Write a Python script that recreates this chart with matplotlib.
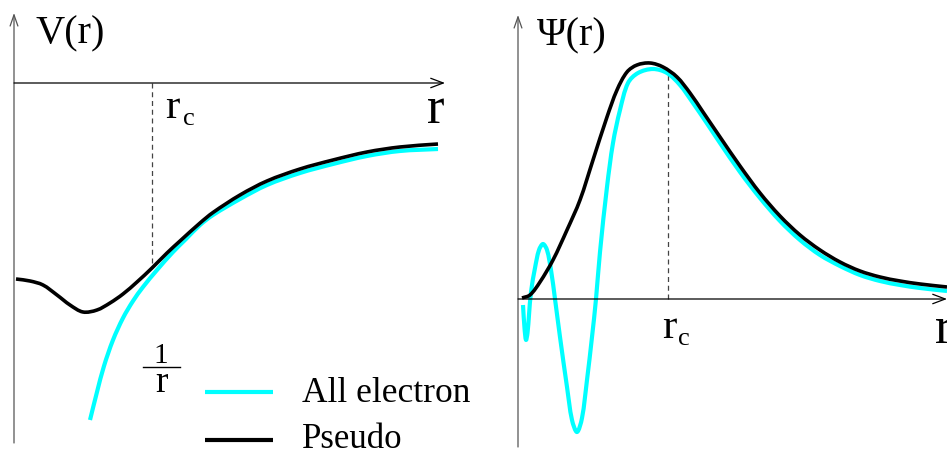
import matplotlib
matplotlib.use("Agg")
import matplotlib.pyplot as plt
import numpy as np
from matplotlib.path import Path
from matplotlib.patches import PathPatch

# ---------------- data (schematic) ----------------
# Left panel: potential V(r); r and V in arbitrary units (origin at axes cross)
rc_left = 138
r_ps_left = [2, 16, 29, 43, 56, 69, 83, 96, 109, 123, 138, 153, 166, 186, 199, 226, 253, 286, 319, 353, 386, 424]
V_ps = [-196, -198, -202, -212, -222, -229, -227, -220, -211, -199, -185, -170, -158, -140, -129.5, -112, -98, -86, -77, -69, -64, -61]
r_ae_left = [76, 83, 90, 99, 109, 119, 129, 143, 159, 172, 186, 199, 226, 253, 286, 319, 353, 386, 424]
V_ae = [-337, -309, -283, -257, -235, -218, -204, -187, -169, -156, -142, -132, -116, -102, -90, -81, -73, -68, -66]

# Right panel: wavefunction Psi(r)
rc_right = 150
r_ps_right = [4, 12, 22, 35, 49, 62, 75, 89, 99, 109, 119, 132, 145, 159, 172, 185, 202, 222, 242, 262,
              282, 302, 322, 342, 362, 382, 402, 429]
Psi_ps = [1, 4, 17, 39, 69, 99, 139, 182, 209, 227, 234, 236, 232, 222, 206, 187, 162, 133, 106, 83,
          64, 49, 37, 28, 22, 18, 15, 12]
r_ae_right = [5, 6.5, 8, 9.5, 11, 13, 17, 21, 25, 29, 33, 37, 42, 49, 54, 59, 64, 69, 74, 78,
              82, 89, 95, 102, 110, 120, 135, 149, 162, 175, 188, 202, 222, 242, 262, 282, 302, 322, 342, 362,
              382, 402, 429]
Psi_ae = [-6, -29, -41, -34, -16, 7, 31, 49, 55, 49, 29, 0, -38, -88, -121, -133, -119, -81, -38, 0,
          47, 112, 156, 189, 216, 226, 230, 226, 214, 196, 177, 156, 127, 101, 78, 59, 44, 33, 24, 18,
          14, 11, 8]

legend_labels = ["All electron", "Pseudo"]

# ---------------- styling ----------------
CYAN = "#00FFFF"
BLACK = "#000000"
SERIF = ["Liberation Serif", "DejaVu Serif"]
plt.rcParams["font.family"] = SERIF

W, H = 947, 455
fig = plt.figure(figsize=(W / 100, H / 100), dpi=100)
fig.patch.set_facecolor("white")

axL = fig.add_axes([0, 0, 470 / W, 1])
axR = fig.add_axes([470 / W, 0, 477 / W, 1])
axL.set_xlim(-14, 456)
axL.set_ylim(-372, 83)
axR.set_xlim(-48, 429)
axR.set_ylim(-156, 299)
for ax in (axL, axR):
    ax.axis("off")


def smooth_curve(ax, xs, ys, color, lw, z=2):
    """Draw a smooth spline (cubic Bezier segments) through the given points."""
    P = np.column_stack([xs, ys]).astype(float)
    d = np.hypot(*np.diff(P, axis=0).T)
    t = np.concatenate([[0], np.cumsum(d)])
    n = len(P)
    m = np.zeros_like(P)
    for i in range(n):
        if i == 0:
            m[i] = (P[1] - P[0]) / (t[1] - t[0])
        elif i == n - 1:
            m[i] = (P[-1] - P[-2]) / (t[-1] - t[-2])
        else:
            m[i] = (P[i + 1] - P[i - 1]) / (t[i + 1] - t[i - 1])
    verts = [P[0]]
    codes = [Path.MOVETO]
    for i in range(n - 1):
        h = t[i + 1] - t[i]
        verts += [P[i] + m[i] * h / 3, P[i + 1] - m[i + 1] * h / 3, P[i + 1]]
        codes += [Path.CURVE4] * 3
    patch = PathPatch(Path(verts, codes), facecolor="none", edgecolor=color, lw=lw,
                      capstyle="butt", joinstyle="round", zorder=z)
    ax.add_patch(patch)


def arrow(ax, start, end, color, hl=0.45, hw=0.17, lw=0.9):
    ax.annotate("", xy=end, xytext=start,
                arrowprops=dict(arrowstyle=f"->,head_length={hl},head_width={hw}",
                                lw=lw, color=color, shrinkA=0, shrinkB=0,
                                mutation_scale=20),
                annotation_clip=False)


# ---------- left panel ----------
arrow(axL, (0, -360), (0, 70), "#555555", hl=0.4, hw=0.14)
arrow(axL, (0, 0), (431, 0), BLACK)
axL.plot([rc_left, rc_left], [0, -182], color="#444444", lw=0.9, ls=(0, (4, 3)))
smooth_curve(axL, r_ae_left, V_ae, CYAN, 3.0, z=2)
smooth_curve(axL, r_ps_left, V_ps, BLACK, 2.6, z=3)

axL.text(21, 40, "V(r)", fontsize=29, ha="left", va="baseline")
axL.text(413, -40, "r", fontsize=38, ha="left", va="baseline")
axL.text(151, -35, "r", fontsize=31, ha="left", va="baseline")
axL.text(169, -42, "c", fontsize=19, ha="left", va="baseline")
# 1/r fraction
axL.text(147, -280, "1", fontsize=21, ha="center", va="baseline")
axL.plot([129, 166], [-284, -284], color=BLACK, lw=1.0)
axL.text(147, -309, "r", fontsize=27, ha="center", va="baseline")

# legend (drawn by hand)
axL.plot([191, 259], [-309, -309], color=CYAN, lw=3.0, solid_capstyle="butt")
axL.plot([191, 259], [-357, -357], color=BLACK, lw=3.0, solid_capstyle="butt")
axL.text(288, -319, legend_labels[0], fontsize=25.5, ha="left", va="baseline")
axL.text(288, -365, legend_labels[1], fontsize=25, ha="left", va="baseline")

# ---------- right panel ----------
arrow(axR, (0, -148), (0, 284), "#555555", hl=0.4, hw=0.14)
arrow(axR, (0, 0), (429, 0), BLACK)
axR.plot([rc_right, rc_right], [0, 224], color="#444444", lw=0.9, ls=(0, (4, 3)))
smooth_curve(axR, r_ae_right, Psi_ae, CYAN, 3.0, z=2)
smooth_curve(axR, r_ps_right, Psi_ps, BLACK, 2.6, z=3)

axR.text(19, 254, "Ψ(r)", fontsize=29, ha="left", va="baseline")
axR.text(417, -44, "r", fontsize=38, ha="left", va="baseline")
axR.text(144, -39, "r", fontsize=31, ha="left", va="baseline")
axR.text(160, -46, "c", fontsize=19, ha="left", va="baseline")

fig.savefig("out.png", dpi=100, facecolor="white")
